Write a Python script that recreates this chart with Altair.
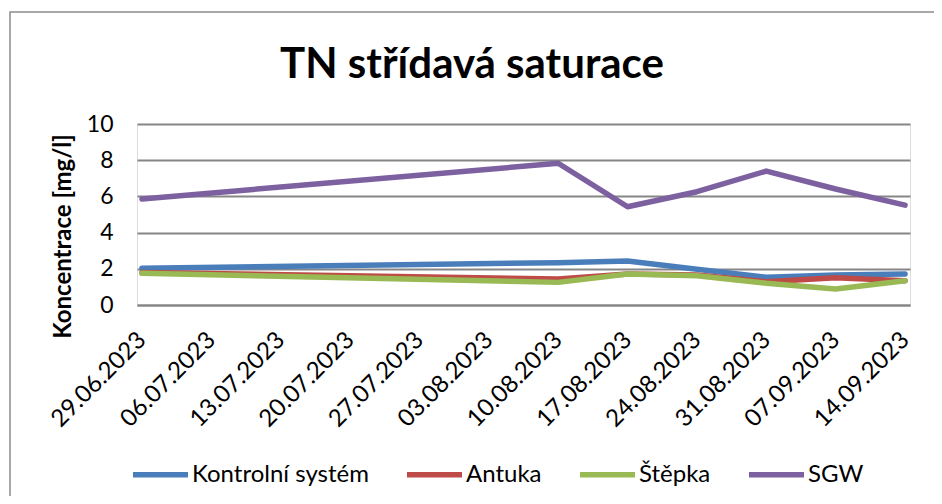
import altair as alt
import pandas as pd

# ---- data ----
dates = ["2023-06-29", "2023-08-10", "2023-08-17", "2023-08-24",
         "2023-08-31", "2023-09-07", "2023-09-14"]
kontrolni = [2.03, 2.34, 2.43, 1.97, 1.53, 1.66, 1.71]
antuka = [1.80, 1.43, 1.71, 1.66, 1.29, 1.51, 1.34]
stepka = [1.75, 1.25, 1.71, 1.62, 1.20, 0.88, 1.34]
sgw = [5.86, 7.83, 5.43, 6.26, 7.40, 6.41, 5.52]

series_names = ["Kontrolní systém", "Antuka", "Štěpka", "SGW"]
series_colors = ["#4A7EBB", "#BE4B48", "#98B954", "#7D60A0"]

tick_dates = ["2023-06-29", "2023-07-06", "2023-07-13", "2023-07-20",
              "2023-07-27", "2023-08-03", "2023-08-10", "2023-08-17",
              "2023-08-24", "2023-08-31", "2023-09-07", "2023-09-14"]
y_ticks = [0, 2, 4, 6, 8, 10]

title_text = "TN střídavá saturace"
y_title = "Koncentrace [mg/l]"

# ---- build long table ----
rows = []
for name, vals in zip(series_names, [kontrolni, antuka, stepka, sgw]):
    for d, v in zip(dates, vals):
        rows.append({"date": d, "series": name, "value": v})
df = pd.DataFrame(rows)


def dt(s, hours=0):
    y, m, d = (int(p) for p in s.split("-"))
    return alt.DateTime(year=y, month=m, date=d, hours=hours, utc=True)


x_domain = [dt("2023-06-28", 12), dt("2023-09-14", 12)]

FONT = "Lato"
GRID = "#868686"

lines = alt.Chart(df).mark_line(
    strokeWidth=5.5, strokeCap="round", strokeJoin="round"
).encode(
    x=alt.X(
        "date:T",
        scale=alt.Scale(type="utc", domain=x_domain),
        axis=alt.Axis(
            values=[dt(t) for t in tick_dates],
            format="%d.%m.%Y",
            labelAngle=-45,
            labelAlign="right",
            labelBaseline="middle",
            labelPadding=31,
            labelFontSize=24,
            labelFont=FONT,
            labelColor="#000000",
            ticks=False,
            grid=False,
            domainColor=GRID,
            domainWidth=2,
            title=None,
            labelOverlap=False,
        ),
    ),
    y=alt.Y(
        "value:Q",
        scale=alt.Scale(domain=[0, 10]),
        axis=alt.Axis(
            values=y_ticks,
            labelFontSize=23,
            labelFont=FONT,
            labelColor="#000000",
            labelPadding=24,
            ticks=False,
            domain=False,
            grid=True,
            gridColor=GRID,
            gridWidth=2,
            title=y_title,
            titleFont=FONT,
            titleFontSize=24,
            titleFontWeight="bold",
            titleColor="#000000",
            titleAngle=270,
            titleAlign="center",
            titleBaseline="middle",
            titleX=-74,
            titleY=112,
        ),
    ),
    color=alt.Color(
        "series:N",
        scale=alt.Scale(domain=series_names, range=series_colors),
        legend=alt.Legend(
            title=None,
            orient="none",
            legendX=-7,
            legendY=320,
            direction="horizontal",
            columns=4,
            symbolType="stroke",
            symbolSize=3025,
            symbolStrokeWidth=5.5,
            labelFont=FONT,
            labelFontSize=24,
            labelColor="#000000",
            labelLimit=400,
            labelOffset=1,
            columnPadding=27,
        ),
    ),
)

one = pd.DataFrame({"t": [title_text]})
title = alt.Chart(one).mark_text(
    font=FONT, fontSize=42, fontWeight="bold", color="#000000",
    align="center", baseline="alphabetic"
).encode(text="t:N", x=alt.value(335), y=alt.value(-46))

border = alt.Chart(one).mark_rect(
    fill="transparent", stroke="#8c8c8c", strokeWidth=1.5
).encode(x=alt.value(-127), x2=alt.value(900), y=alt.value(-112), y2=alt.value(500))

chart = alt.layer(border, lines, title).properties(
    width=773,
    height=181,
    padding={"left": 129, "top": 116, "right": 24, "bottom": 191},
    autosize=alt.AutoSizeParams(type="none"),
).configure_view(stroke=None).configure(background="white")

chart.save("out.html", embed_options={"renderer": "svg", "actions": False})
